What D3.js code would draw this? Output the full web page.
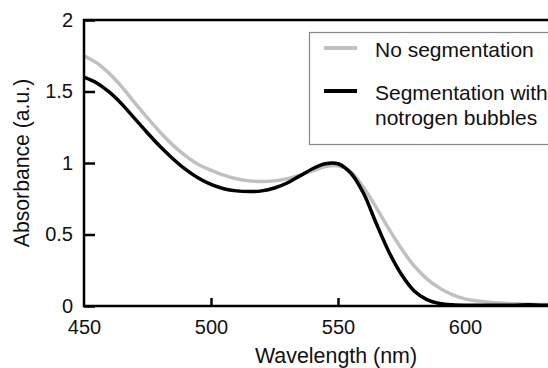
<!DOCTYPE html>
<html>
<head>
<meta charset="utf-8">
<script src="https://cdn.jsdelivr.net/npm/d3@7"></script>
<style>
  body { margin: 0; background: #fff; }
  svg { display: block; font-family: "Liberation Sans", Arial, sans-serif; }
</style>
</head>
<body>
<div class="chart"></div>
<script>
// wavelengths (nm) and absorbance
var wavelength = [450, 455, 460, 465, 470, 475, 480, 485, 490, 495, 500, 505, 510, 515, 520, 525, 530, 535, 540, 545, 550, 555, 560, 565, 570, 575, 580, 585, 590, 595, 600, 605, 610, 615, 620, 625, 630, 635, 640];
var noSegmentation = [1.75, 1.70, 1.625, 1.53, 1.42, 1.315, 1.215, 1.125, 1.05, 0.99, 0.95, 0.915, 0.89, 0.875, 0.87, 0.875, 0.89, 0.915, 0.945, 0.975, 0.98, 0.94, 0.83, 0.69, 0.54, 0.40, 0.28, 0.19, 0.125, 0.08, 0.05, 0.035, 0.025, 0.02, 0.015, 0.012, 0.01, 0.01, 0.01];
var withBubbles = [1.60, 1.56, 1.495, 1.41, 1.31, 1.21, 1.115, 1.03, 0.955, 0.895, 0.85, 0.82, 0.805, 0.80, 0.805, 0.825, 0.86, 0.91, 0.96, 0.995, 0.995, 0.93, 0.79, 0.58, 0.38, 0.22, 0.105, 0.045, 0.018, 0.008, 0.005, 0.005, 0.005, 0.005, 0.006, 0.008, 0.006, 0.006, 0.006];

var xTicks = [450, 500, 550, 600];
var xTickMarks = [500, 550];
var yTicks = [0, 0.5, 1, 1.5, 2];
var yTickLabels = ["0", "0.5", "1", "1.5", "2"];

var series = [
    { name: "No segmentation", values: noSegmentation, color: "#c0c0c0" },
    { name: "Segmentation with|notrogen bubbles", values: withBubbles, color: "#000" }
];

var width = 548, height = 368;
var plotLeft = 84, plotTop = 20, plotBottom = 306;

var x = d3.scaleLinear().domain([450, 600]).range([plotLeft, 465]);
var y = d3.scaleLinear().domain([0, 2]).range([plotBottom, plotTop]);

var svg = d3.select(".chart").append("svg")
    .attr("width", width)
    .attr("height", height);

svg.append("clipPath").attr("id", "plot")
    .append("rect")
    .attr("x", plotLeft).attr("y", plotTop)
    .attr("width", width - plotLeft).attr("height", plotBottom - plotTop);

// curves
var line = d3.line()
    .x(function (d) { return x(d[0]); })
    .y(function (d) { return y(d[1]); })
    .curve(d3.curveCatmullRom.alpha(0.5));

series.forEach(function (s) {
    svg.append("path")
        .datum(wavelength.map(function (w, i) { return [w, s.values[i]]; }))
        .attr("clip-path", "url(#plot)")
        .attr("fill", "none")
        .attr("stroke", s.color)
        .attr("stroke-width", 3.5)
        .attr("stroke-linejoin", "round")
        .attr("d", line);
});

// x axis labels
svg.append("g")
    .attr("transform", "translate(0," + plotBottom + ")")
    .call(d3.axisBottom(x).tickValues(xTicks).tickSize(0).tickPadding(14).tickFormat(d3.format("d")));
// inward tick marks
svg.append("g")
    .attr("transform", "translate(0," + plotBottom + ")")
    .call(d3.axisBottom(x).tickValues(xTickMarks).tickSizeInner(-8).tickSizeOuter(0).tickFormat(""));

// y axis
svg.append("g")
    .attr("transform", "translate(" + plotLeft + ",0)")
    .call(d3.axisLeft(y).tickValues(yTicks).tickSizeInner(-11).tickSizeOuter(0).tickPadding(11)
        .tickFormat(function (d, i) { return yTickLabels[i]; }));

svg.selectAll(".domain").remove();
svg.selectAll(".tick line").attr("stroke", "#000").attr("stroke-width", 2.5);
svg.selectAll(".tick text")
    .attr("font-size", 20)
    .attr("font-family", "Liberation Sans, Arial, sans-serif")
    .attr("fill", "#111");

// frame: left, top, bottom
svg.append("path")
    .attr("d", "M" + width + "," + plotTop + "H" + plotLeft + "V" + plotBottom + "H" + width)
    .attr("fill", "none")
    .attr("stroke", "#000")
    .attr("stroke-width", 2.5);

// axis titles
svg.append("text")
    .attr("x", 336).attr("y", 363)
    .attr("text-anchor", "middle")
    .attr("font-size", 21.4)
    .attr("fill", "#111")
    .text("Wavelength (nm)");

svg.append("text")
    .attr("transform", "translate(29,163) rotate(-90)")
    .attr("text-anchor", "middle")
    .attr("font-size", 21.2)
    .attr("fill", "#111")
    .text("Absorbance (a.u.)");

// legend
var legend = svg.append("g");
legend.append("rect")
    .attr("x", 309.5).attr("y", 32.5)
    .attr("width", 260).attr("height", 112)
    .attr("fill", "#fff")
    .attr("stroke", "#888")
    .attr("stroke-width", 1.2);

var legendY = [48, 91];
series.forEach(function (s, i) {
    legend.append("line")
        .attr("x1", 324).attr("x2", 357)
        .attr("y1", legendY[i]).attr("y2", legendY[i])
        .attr("stroke", s.color)
        .attr("stroke-width", 4);
    var t = legend.append("text")
        .attr("x", 375)
        .attr("y", legendY[i] + 9)
        .attr("font-size", 21)
        .attr("fill", "#111");
    s.name.split("|").forEach(function (part, j) {
        t.append("tspan")
            .attr("x", 375)
            .attr("dy", j === 0 ? 0 : 25)
            .text(part);
    });
});
</script>
</body>
</html>
